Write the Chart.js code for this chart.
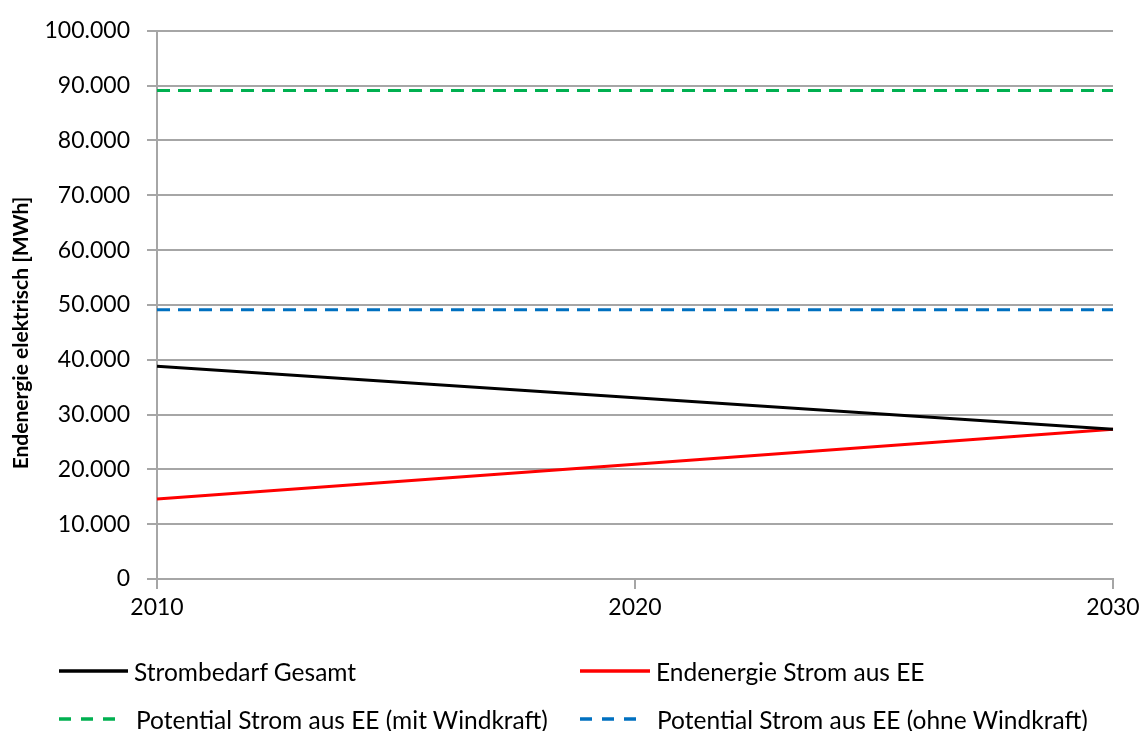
<!DOCTYPE html>
<html>
<head>
<meta charset="utf-8">
<script src="https://cdn.jsdelivr.net/npm/chart.js@4/dist/chart.umd.min.js"></script>
<style>
  html, body { margin: 0; padding: 0; background: #fff; }
  #wrap { position: relative; width: 1145px; height: 731px; }
  #chart { position: absolute; left: 0; top: 0; }
  #legend { position: absolute; left: 0; top: 0; width: 1145px; height: 731px; pointer-events: none;
    font-family: Lato, "Open Sans", sans-serif; font-size: 24.5px; color: #000; }
  .item { position: absolute; display: flex; align-items: center; white-space: nowrap; height: 30px; }
</style>
</head>
<body>
<div id="wrap">
  <canvas id="chart" width="1145" height="731"></canvas>
  <div id="legend"></div>
</div>
<script>
// data
const years = ["2010", "2020", "2030"];
const strombedarf = [38800, 33050, 27300];
const eeStrom = [14600, 20950, 27300];
const potMitWind = [89100, 89100, 89100];
const potOhneWind = [49100, 49100, 49100];
const yTicks = [0, 10000, 20000, 30000, 40000, 50000, 60000, 70000, 80000, 90000, 100000];

const FONT = "Lato, 'Open Sans', sans-serif";
const GRID = "#a6a6a6";

function fmtDE(v) {
  return String(v).replace(/\B(?=(\d{3})+(?!\d))/g, ".");
}

// y axis title, drawn a bit below the middle like the original
const yTitlePlugin = {
  id: "yTitle",
  afterDraw(chart) {
    const c = chart.ctx;
    c.save();
    c.translate(21, 333);
    c.rotate(-Math.PI / 2);
    c.font = "bold 21px " + FONT;
    c.fillStyle = "#000";
    c.textAlign = "center";
    c.textBaseline = "middle";
    c.fillText("Endenergie elektrisch [MWh]", 0, 0);
    c.restore();
  }
};

const ctx = document.getElementById("chart").getContext("2d");
const chart = new Chart(ctx, {
  type: "line",
  data: {
    labels: years,
    datasets: [
      { label: "Strombedarf Gesamt", data: strombedarf, borderColor: "#000000", borderWidth: 3, pointRadius: 0, col: 0, row: 0 },
      { label: "Endenergie Strom aus EE", data: eeStrom, borderColor: "#ff0000", borderWidth: 3, pointRadius: 0, col: 1, row: 0 },
      { label: "Potential Strom aus EE (mit Windkraft)", data: potMitWind, borderColor: "#00b050", borderWidth: 3, borderDash: [13, 8], pointRadius: 0, col: 0, row: 1 },
      { label: "Potential Strom aus EE (ohne Windkraft)", data: potOhneWind, borderColor: "#0070c0", borderWidth: 3, borderDash: [13, 8], pointRadius: 0, col: 1, row: 1 },
    ],
  },
  options: {
    responsive: false,
    animation: false,
    layout: { padding: { left: 0, top: 29, right: 32, bottom: 100 } },
    plugins: { legend: { display: false }, tooltip: { enabled: false } },
    scales: {
      x: {
        offset: false,
        grid: { drawOnChartArea: false, drawTicks: true, tickLength: 10, color: GRID, lineWidth: 2 },
        border: { color: GRID, width: 2 },
        ticks: { color: "#000", font: { family: FONT, size: 23 }, padding: 5, maxRotation: 0 },
        afterFit(s) { s.height = 52; },
      },
      y: {
        min: 0,
        max: 100000,
        afterBuildTicks(s) { s.ticks = yTicks.map(v => ({ value: v })); },
        grid: { color: GRID, lineWidth: 2, tickLength: 10 },
        border: { color: GRID, width: 2 },
        ticks: { color: "#000", font: { family: FONT, size: 23 }, padding: 17, callback: v => fmtDE(v) },
        afterFit(s) { s.width = 157; },
      },
    },
  },
  plugins: [yTitlePlugin],
});

// legend in two columns, two rows
const legend = document.getElementById("legend");
const colX = [59, 580];
const rowY = [671, 719];
chart.data.datasets.forEach(ds => {
  const item = document.createElement("div");
  item.className = "item";
  item.style.left = colX[ds.col] + "px";
  item.style.top = (rowY[ds.row] - 15) + "px";
  const dashed = !!ds.borderDash;
  const w = dashed ? 57 : (ds.col === 0 ? 69 : 70);
  const gap = dashed ? 20 : 6;
  const dash = dashed ? 'stroke-dasharray="12 10"' : "";
  item.innerHTML = `<svg width="${w}" height="6" style="margin-right:${gap}px"><line x1="0" y1="3" x2="${w}" y2="3" stroke="${ds.borderColor}" stroke-width="3.5" ${dash}/></svg><span>${ds.label}</span>`;
  legend.appendChild(item);
});
</script>
</body>
</html>
